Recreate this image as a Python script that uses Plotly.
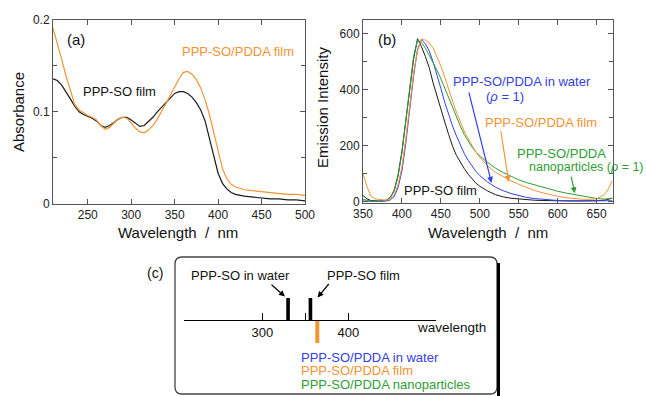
import plotly.graph_objects as go

W, H = 646, 396

# ---------------- data: panel (a) absorption ----------------
abs_wl = [210, 215, 220, 225, 230, 235, 240, 245, 250, 255, 260, 265, 270, 275, 280, 285, 290, 295,
          300, 305, 310, 315, 320, 325, 330, 335, 340, 345, 350, 355, 360, 365, 370, 375, 380, 385,
          390, 395, 400, 405, 410, 415, 420, 430, 440, 450, 460, 470, 480, 490, 500]
abs_ppp_so_film = [0.136, 0.134, 0.129, 0.122, 0.114, 0.106, 0.100, 0.097, 0.095, 0.093, 0.090, 0.085,
                   0.083, 0.085, 0.088, 0.092, 0.094, 0.094, 0.091, 0.087, 0.084, 0.085, 0.089, 0.094,
                   0.100, 0.105, 0.111, 0.116, 0.120, 0.122, 0.122, 0.120, 0.116, 0.110, 0.102, 0.090,
                   0.071, 0.051, 0.033, 0.022, 0.016, 0.012, 0.010, 0.008, 0.007, 0.006, 0.005, 0.005,
                   0.004, 0.004, 0.003]
abs_pdda_film = [0.191, 0.175, 0.157, 0.139, 0.122, 0.108, 0.102, 0.099, 0.096, 0.094, 0.091, 0.085,
                 0.081, 0.083, 0.087, 0.092, 0.094, 0.093, 0.088, 0.082, 0.078, 0.077, 0.080, 0.085,
                 0.092, 0.100, 0.109, 0.118, 0.127, 0.136, 0.143, 0.144, 0.141, 0.135, 0.126, 0.113,
                 0.097, 0.077, 0.055, 0.038, 0.027, 0.021, 0.018, 0.015, 0.014, 0.013, 0.012, 0.011,
                 0.010, 0.010, 0.009]

# ---------------- data: panel (b) emission ----------------
em_wl = [350, 355, 360, 365, 370, 375, 380, 385, 390, 395, 400, 405, 410, 415, 420, 425, 430, 435,
         440, 445, 450, 455, 460, 465, 470, 475, 480, 485, 490, 495, 500, 510, 520, 530, 540, 550,
         560, 570, 580, 590, 600, 610, 620, 630, 640, 650, 660, 665, 670]
em_ppp_so_film = [22, 10, 4, 2, 2, 3, 5, 15, 40, 95, 180, 290, 410, 510, 583, 555, 520, 480,
                  425, 375, 330, 285, 240, 198, 165, 140, 118, 98, 80, 66, 55, 38, 25, 17, 12, 9,
                  7, 5, 4, 3, 3, 2, 2, 2, 2, 3, 5, 8, 12]
em_pdda_water = [2, 1, 1, 1, 1, 1, 2, 6, 18, 50, 110, 210, 330, 450, 545, 580, 565, 540,
                 500, 455, 405, 355, 310, 270, 235, 200, 172, 148, 127, 108, 93, 70, 52, 39, 29, 21,
                 15, 11, 8, 6, 4, 3, 3, 2, 2, 2, 2, 3, 3]
em_pdda_film = [100, 55, 20, 10, 8, 6, 5, 10, 25, 60, 125, 225, 345, 460, 540, 582, 578, 568,
                550, 520, 485, 445, 400, 360, 320, 285, 252, 225, 200, 178, 158, 128, 105, 88, 74, 62,
                50, 40, 32, 25, 19, 14, 11, 9, 8, 10, 25, 45, 75]
em_pdda_np = [8, 4, 2, 1, 1, 2, 5, 15, 38, 90, 175, 285, 410, 520, 578, 570, 550, 525,
              500, 470, 440, 405, 370, 335, 300, 270, 240, 215, 195, 178, 163, 140, 120, 104, 90, 78,
              68, 60, 52, 44, 37, 31, 26, 20, 15, 11, 9, 10, 12]

# ---------------- data: panel (c) schematic ----------------
c_ppp_so_peaks = [330, 356]      # PPP-SO in water, PPP-SO film
c_pdda_peaks = [364]             # PPP-SO/PDDA (water, film, nanoparticles)
c_tickvals = [300, 350, 400]
c_ticktext = ["300", "", "400"]

BLACK = "#1a1a1a"
ORANGE = "#F39333"
BLUE = "#3540E0"
GREEN = "#2E9E35"
FONT = "Liberation Sans, Arial, Helvetica, sans-serif"


def px(x, y):
    return x / W, 1 - y / H


fig = go.Figure()

# panel (a)
fig.add_trace(go.Scatter(x=abs_wl, y=abs_ppp_so_film, mode="lines",
                         line=dict(color=BLACK, width=1.2), xaxis="x", yaxis="y"))
fig.add_trace(go.Scatter(x=abs_wl, y=abs_pdda_film, mode="lines",
                         line=dict(color=ORANGE, width=1.2), xaxis="x", yaxis="y"))

# panel (b)
for ys, col in [(em_ppp_so_film, BLACK), (em_pdda_water, BLUE),
                (em_pdda_np, GREEN), (em_pdda_film, ORANGE)]:
    fig.add_trace(go.Scatter(x=em_wl, y=ys, mode="lines",
                             line=dict(color=col, width=1.0), xaxis="x2", yaxis="y2"))

# panel (c)
fig.add_trace(go.Bar(x=c_ppp_so_peaks, y=[22] * len(c_ppp_so_peaks), width=4.2,
                     marker=dict(color="black", line=dict(width=0)), xaxis="x3", yaxis="y3"))
fig.add_trace(go.Bar(x=c_pdda_peaks, y=[-23] * len(c_pdda_peaks), width=4.6,
                     marker=dict(color=ORANGE, line=dict(width=0)), xaxis="x3", yaxis="y3"))

axis_common = dict(showline=True, linecolor="#555", linewidth=1, mirror="ticks",
                   ticks="inside", ticklen=5, tickcolor="#555", tickwidth=1,
                   showgrid=False, zeroline=False, automargin=False,
                   tickfont=dict(family=FONT, size=12, color="#222"))

fig.update_layout(
    width=W, height=H, autosize=False,
    margin=dict(l=0, r=0, t=0, b=0, pad=0, autoexpand=False),
    paper_bgcolor="white", plot_bgcolor="white",
    showlegend=False, barmode="overlay", hovermode=False,
    xaxis=dict(domain=[53 / W, 305 / W], range=[210, 500], tick0=250, dtick=50,
               anchor="y", **axis_common),
    yaxis=dict(domain=[1 - 204 / H, 1 - 20 / H], range=[-0.0005, 0.2],
               tickvals=[0, 0.1, 0.2], ticktext=["0", "0.1", "0.2"], anchor="x",
               minor=dict(ticks="inside", ticklen=4, tickcolor="#555", dtick=0.05, tick0=0),
               **axis_common),
    xaxis2=dict(domain=[363 / W, 613 / W], range=[350, 671], tick0=350, dtick=50,
                anchor="y2", **axis_common),
    yaxis2=dict(domain=[1 - 203 / H, 1 - 20 / H], range=[-5, 650], tick0=0, dtick=200,
                anchor="x2",
                minor=dict(ticks="inside", ticklen=4, tickcolor="#555", dtick=100, tick0=0),
                **axis_common),
    xaxis3=dict(domain=[184 / W, 436 / W], range=[209, 502], anchor="free",
                position=1 - 320 / H, showline=True, linecolor="black", linewidth=1,
                ticks="inside", ticklen=7, tickcolor="black", tickwidth=1, automargin=False,
                tickvals=c_tickvals, ticktext=c_ticktext, showgrid=False, zeroline=False,
                tickfont=dict(family=FONT, size=13, color="#111")),
    yaxis3=dict(domain=[1 - 350 / H, 1 - 290 / H], range=[-30, 30], anchor="x3",
                visible=False, showgrid=False, zeroline=False, automargin=False),
    font=dict(family=FONT),
)

ann = []


def text(t, x, y, color="#111", size=13, xanchor="left", angle=0):
    xx, yy = px(x, y)
    ann.append(dict(text=t, x=xx, y=yy, xref="paper", yref="paper", showarrow=False,
                    xanchor=xanchor, yanchor="middle", textangle=angle,
                    font=dict(family=FONT, size=size, color=color), borderpad=0))


# axis titles
text("Absorbance", 18, 112, size=15, xanchor="center", angle=-90)
text("Wavelength  /  nm", 178, 232, size=15, xanchor="center")
text("Emission Intensity", 323, 108, size=15, xanchor="center", angle=-90)
text("Wavelength  /  nm", 488, 232, size=15, xanchor="center")

# panel (a) labels
text("(a)", 76, 39, size=15, xanchor="center")
text("PPP-SO/PDDA film", 181, 52, color=ORANGE)
text("PPP-SO film", 82, 92)

# panel (b) labels
text("(b)", 387, 39, size=15, xanchor="center")
text("PPP-SO/PDDA in water", 452, 81, color=BLUE)
text("(<i>ρ</i> = 1)", 505, 96, color=BLUE, xanchor="center")
text("PPP-SO/PDDA film", 484, 122, color=ORANGE)
text("PPP-SO/PDDA", 516, 153, color=GREEN)
text("nanoparticles (<i>ρ</i> = 1)", 645, 167, color=GREEN, size=12.5, xanchor="right")

text("PPP-SO film", 403, 190)

# panel (c) labels
text("(c)", 155, 273, size=14, xanchor="center")
text("PPP-SO in water", 190, 275)
text("PPP-SO film", 326, 275)
text("wavelength", 416, 327, size=13.5)
text("PPP-SO/PDDA in water", 300, 357, color=BLUE, size=13)
text("PPP-SO/PDDA film", 300, 370.5, color=ORANGE, size=13)
text("PPP-SO/PDDA nanoparticles", 300, 384, color=GREEN, size=13)

# arrows in panel (b)
for (xt, yt, dx, dy, col) in [(515, 67, -23, -92, BLUE), (537, 71, -8, -52, ORANGE),
                              (622, 30, -4, -18, GREEN)]:
    ann.append(dict(text="", x=xt, y=yt, xref="x2", yref="y2", showarrow=True,
                    ax=dx, ay=dy, arrowhead=2, arrowsize=1, arrowwidth=1.2,
                    arrowcolor=col))

# arrows in panel (c)
for (xt, yt, dx, dy) in [(285, 296.5, -15, -13), (317.5, 297.5, 12.5, -15)]:
    xx, yy = px(xt, yt)
    ann.append(dict(text="", x=xx, y=yy, xref="paper", yref="paper", showarrow=True,
                    ax=dx, ay=dy, arrowhead=2, arrowsize=1, arrowwidth=1.2,
                    arrowcolor="black"))

fig.update_layout(annotations=ann)

# rounded box around panel (c)
L, R, T, B, r = 175, 497, 257, 394, 7


def P(x, y):
    a, b = px(x, y)
    return f"{a:.5f},{b:.5f}"


path = (f"M {P(L + r, T)} L {P(R - r, T)} Q {P(R, T)} {P(R, T + r)} "
        f"L {P(R, B - r)} Q {P(R, B)} {P(R - r, B)} L {P(L + r, B)} "
        f"Q {P(L, B)} {P(L, B - r)} L {P(L, T + r)} Q {P(L, T)} {P(L + r, T)} Z")
shapes = [
    dict(type="path", path=path, xref="paper", yref="paper",
         line=dict(color="#444", width=1.3), fillcolor="rgba(0,0,0,0)"),
    dict(type="line", xref="paper", yref="paper",
         x0=(R + 1.5) / W, x1=(R + 1.5) / W, y0=1 - (T + 6) / H, y1=1 - 397 / H,
         line=dict(color="black", width=3)),
]
fig.update_layout(shapes=shapes)

fig.write_html(
    "out.html",
    config={"displayModeBar": False, "staticPlot": True},
    post_script="document.body.style.margin='0';document.body.style.overflow='hidden';",
)
